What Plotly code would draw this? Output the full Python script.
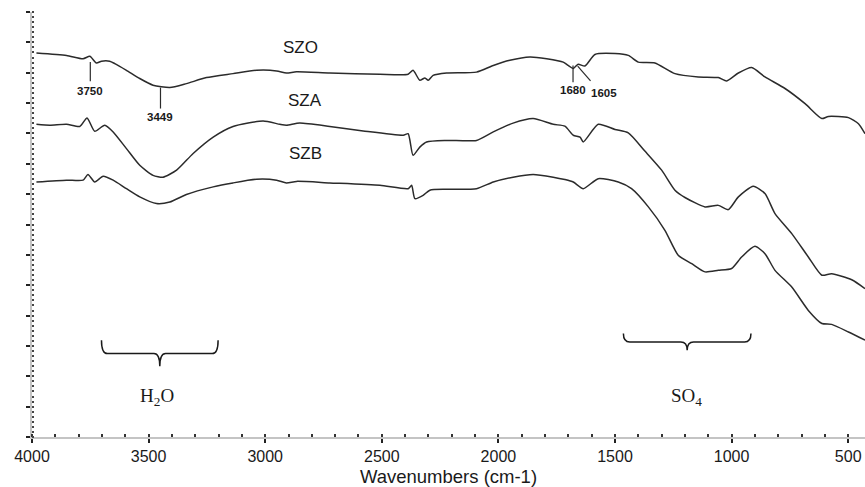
import plotly.graph_objects as go

# FTIR spectra of the sulfated zirconia samples (transmittance, arbitrary units)
szo_wn = [3981, 3852, 3781, 3752, 3724, 3702, 3667, 3645, 3595, 3538, 3481, 3409,
          3338, 3252, 3138, 3037, 2951, 2909, 2866, 2723, 2508, 2387, 2366, 2337,
          2315, 2301, 2280, 2222, 2094, 2022, 1951, 1865, 1793, 1722, 1701, 1679,
          1658, 1629, 1586, 1500, 1443, 1400, 1329, 1243, 1143, 1057, 1021, 971,
          914, 857, 771, 685, 613, 585, 499, 456, 428]
szo_t = [126.5, 125.7, 124.6, 125.4, 123.2, 123.8, 123.8, 123.0, 120.8, 118.1, 115.9, 115.1,
         116.4, 118.4, 119.7, 120.8, 120.6, 119.9, 120.3, 119.9, 119.5, 119.5, 120.8, 117.5,
         118.3, 117.5, 119.1, 119.9, 120.2, 122.4, 124.1, 125.2, 124.6, 123.5, 122.4, 121.4,
         122.8, 122.2, 126.0, 126.3, 125.7, 123.5, 123.2, 119.7, 118.6, 118.4, 117.3, 119.9,
         121.7, 118.6, 114.8, 109.8, 104.9, 105.6, 105.2, 103.2, 99.9]

sza_wn = [3981, 3924, 3852, 3795, 3764, 3731, 3688, 3652, 3595, 3538, 3481, 3438,
          3380, 3309, 3223, 3138, 3009, 2937, 2909, 2852, 2723, 2580, 2408, 2387,
          2366, 2337, 2308, 2222, 2094, 2022, 1937, 1851, 1765, 1715, 1679, 1650,
          1636, 1572, 1500, 1443, 1372, 1300, 1243, 1200, 1114, 1057, 1014, 971,
          907, 857, 814, 742, 671, 613, 571, 485, 428]
sza_t = [103.0, 102.7, 103.0, 102.3, 105.1, 100.7, 102.7, 100.5, 95.0, 89.5, 86.2, 85.6,
         87.9, 93.4, 98.8, 102.3, 104.1, 103.0, 102.7, 103.4, 102.3, 100.8, 99.4, 99.9,
         92.8, 95.5, 97.2, 97.7, 97.7, 100.5, 103.4, 104.9, 103.0, 102.4, 99.4, 98.8,
         97.2, 103.0, 101.3, 100.2, 94.2, 87.9, 81.3, 78.9, 75.8, 76.3, 74.9, 79.1,
         82.6, 80.2, 73.6, 67.0, 59.3, 53.3, 53.8, 51.8, 48.9]

szb_wn = [3981, 3852, 3781, 3760, 3731, 3695, 3652, 3595, 3538, 3466, 3409, 3338,
          3223, 3138, 3037, 2951, 2909, 2866, 2723, 2508, 2387, 2372, 2358, 2323,
          2294, 2222, 2094, 2022, 1937, 1851, 1765, 1715, 1679, 1636, 1572, 1486,
          1429, 1357, 1286, 1229, 1171, 1114, 1057, 1000, 957, 900, 857, 814,
          742, 671, 613, 571, 499, 428]
szb_t = [84.0, 84.6, 84.6, 86.5, 84.0, 85.9, 84.6, 81.8, 79.1, 76.9, 77.4, 79.9,
         82.4, 83.7, 84.9, 84.6, 83.7, 84.2, 83.7, 82.9, 81.8, 82.9, 78.5, 79.6,
         81.3, 81.6, 81.8, 84.0, 85.6, 86.5, 85.6, 84.8, 84.0, 81.8, 85.1, 84.0,
         81.8, 75.8, 68.1, 59.9, 57.1, 54.4, 54.9, 55.5, 59.3, 62.8, 60.4, 54.9,
         49.4, 41.7, 37.4, 37.1, 34.6, 31.9]

series = [("SZO", szo_wn, szo_t), ("SZA", sza_wn, sza_t), ("SZB", szb_wn, szb_t)]

# sample name labels: (text, wavenumber, transmittance)
sample_labels = [("SZO", 2847, 128.4), ("SZA", 2830, 110.9), ("SZB", 2826, 93.4)]

# marked bands on SZO: label, band position, marker top/bottom, label height
band_marks = [("3750", 3750, 123.5, 117.2, 114.0),
              ("3449", 3449, 115.1, 108.2, 105.4),
              ("1680", 1680, 122.4, 116.9, 114.2)]

LINE = "#2b2b2b"
AXIS = "#c4c4c4"
SANS = "Liberation Sans, Arial"
SERIF = "Liberation Serif, Times New Roman"

fig = go.Figure()
for name, wn, t in series:
    fig.add_trace(go.Scatter(x=wn, y=t, mode="lines", name=name,
                             line=dict(color=LINE, width=1.5, shape="spline", smoothing=0.6),
                             showlegend=False, hoverinfo="skip"))

shapes = []
annotations = []

for text, xw, yv in sample_labels:
    annotations.append(dict(x=xw, y=yv, xref="x", yref="y", text=text, showarrow=False,
                            font=dict(family=SANS, size=17, color="#1a1a1a")))

for text, xw, ytop, ybot, ylab in band_marks:
    shapes.append(dict(type="line", xref="x", yref="y", x0=xw, x1=xw, y0=ytop, y1=ybot,
                       line=dict(color=LINE, width=1.2)))
    annotations.append(dict(x=xw, y=ylab, xref="x", yref="y", text="<b>%s</b>" % text,
                            showarrow=False,
                            font=dict(family=SANS, size=11.5, color="#1a1a1a")))

# 1605 band: slanted pointer
shapes.append(dict(type="line", xref="x", yref="y", x0=1660, x1=1605, y0=122.2, y1=117.3,
                   line=dict(color=LINE, width=1.2)))
annotations.append(dict(x=1548, y=113.2, xref="x", yref="y", text="<b>1605</b>",
                        showarrow=False,
                        font=dict(family=SANS, size=11.5, color="#1a1a1a")))


def brace(x_left, x_right, y_end, y_bar, y_tip):
    """Horizontal curly brace opening upward, tip pointing down."""
    xc = (x_left + x_right) / 2.0
    d = (x_left - x_right) * 0.05
    return ("M {a},{ye} Q {a},{yb} {a2},{yb} L {c1},{yb} Q {c},{yb} {c},{yt} "
            "Q {c},{yb} {c2},{yb} L {b2},{yb} Q {b},{yb} {b},{ye}").format(
        a=x_left, a2=x_left - d, c1=xc + d, c=xc, c2=xc - d, b2=x_right + d, b=x_right,
        ye=y_end, yb=y_bar, yt=y_tip)


for x_left, x_right, y_end, y_bar, y_tip in [(3702, 3202, 31.9, 27.5, 23.3),
                                             (1464, 917, 34.1, 31.3, 28.6)]:
    shapes.append(dict(type="path", xref="x", yref="y",
                       path=brace(x_left, x_right, y_end, y_bar, y_tip),
                       line=dict(color="#1a1a1a", width=1.5)))

annotations.append(dict(x=3466, y=13.2, xref="x", yref="y", text="H<sub>2</sub>O",
                        showarrow=False, font=dict(family=SERIF, size=19, color="#1a1a1a")))
annotations.append(dict(x=1193, y=13.2, xref="x", yref="y", text="SO<sub>4</sub>",
                        showarrow=False, font=dict(family=SERIF, size=19, color="#1a1a1a")))

fig.update_layout(
    width=865, height=487,
    margin=dict(l=32, r=0, t=12, b=50),
    paper_bgcolor="white", plot_bgcolor="white",
    shapes=shapes, annotations=annotations,
    xaxis=dict(range=[4000, 428], showgrid=False, zeroline=False, automargin=False,
               showline=True, linecolor=AXIS, linewidth=2,
               tickmode="linear", tick0=0, dtick=500,
               ticks="outside", ticklen=4, tickwidth=2, tickcolor="#222",
               minor=dict(dtick=100, ticks="inside", ticklen=3, tickwidth=2, tickcolor="#333"),
               tickfont=dict(family=SANS, size=16, color="#1a1a1a"),
               title=dict(text="Wavenumbers (cm-1)", standoff=6,
                          font=dict(family=SANS, size=18.5, color="#1a1a1a"))),
    yaxis=dict(range=[0, 140], showgrid=False, zeroline=False, automargin=False,
               showline=True, linecolor=AXIS, linewidth=2,
               tickmode="linear", tick0=0, dtick=10, showticklabels=False,
               ticks="outside", ticklen=4, tickwidth=2, tickcolor="#222",
               minor=dict(dtick=10 / 6, ticks="inside", ticklen=2, tickwidth=2,
                          tickcolor="#444")),
)

fig.write_html("out.html")
